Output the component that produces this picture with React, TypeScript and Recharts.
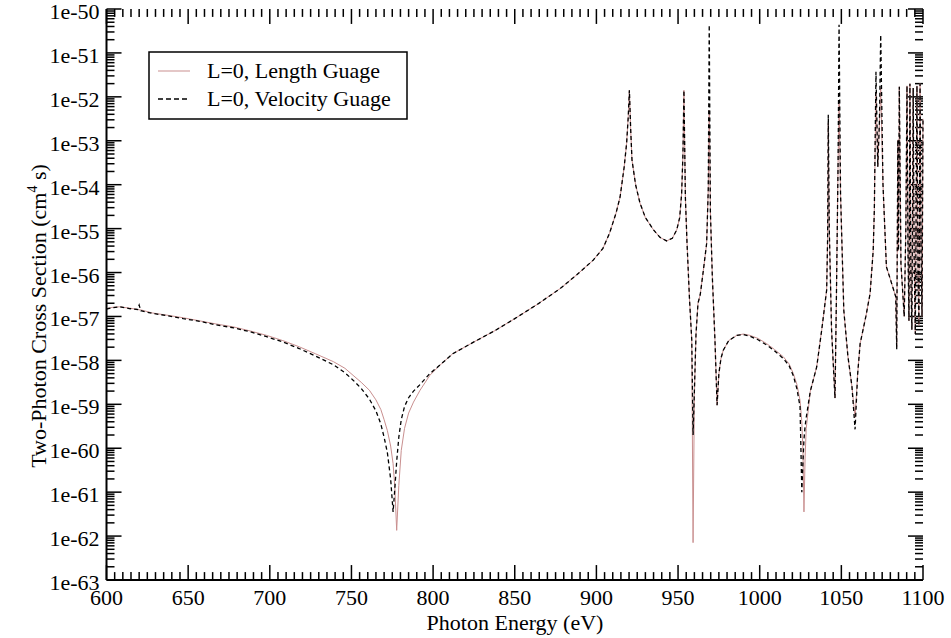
import React from 'react';
import { LineChart, Line, XAxis, YAxis, ReferenceLine } from 'recharts';

// photon energy (eV) and log10 of the cross section (cm^4 s)
const energy = [
  600, 604, 608, 614, 619, 620, 621, 628, 637, 647, 657, 667, 678, 688, 698, 708, 718, 728, 739, 746,
  751, 756, 761, 765, 768, 770, 772, 774, 775.5, 776.5, 777.7, 779, 780.5, 782.5, 785, 788, 792, 798, 805, 812,
  825, 838, 850, 864, 878, 888, 898, 904, 908, 912, 914.5, 917, 918.5, 919.5, 920.2, 921, 921.8, 924, 926.7, 930,
  935, 939, 943, 946.5, 949.2, 951, 952.2, 953, 953.6, 954.5, 955.5, 957, 958.4, 959.2, 960, 961, 962.2, 963.6, 965.5, 967.5,
  968.5, 969.1, 969.8, 971, 972.6, 973.9, 975, 976.3, 977.7, 981, 986, 990, 994, 999, 1004.3, 1009, 1014.5, 1018, 1020.6, 1022.8,
  1024.7, 1025.8, 1026.5, 1027.1, 1027.8, 1028.5, 1031, 1034.9, 1038, 1041, 1041.6, 1042, 1042.6, 1044, 1046.1, 1047, 1048, 1048.6, 1049.5, 1051.5,
  1054, 1056.5, 1058.4, 1060, 1061.5, 1065, 1067.6, 1069.5, 1070.2, 1071.2, 1072.3, 1073.3, 1074.1, 1075.5, 1077.6, 1080.4, 1083.3, 1083.9, 1084.6, 1085,
  1085.5, 1086.5, 1087.5, 1088.5, 1089.5, 1090.2, 1090.8, 1091.4, 1092, 1092.6, 1093.2, 1094, 1094.6, 1095.3, 1096.3, 1096.9, 1097.5, 1098.2, 1098.8, 1099.4,
  1100,
];

const lengthGauge = [
  -56.82, -56.79, -56.78, -56.81, -56.84, -56.85, -56.85, -56.92, -56.97, -57.03, -57.1, -57.17, -57.24, -57.33, -57.43, -57.55, -57.69, -57.85, -58.03, -58.18,
  -58.34, -58.5, -58.68, -58.9, -59.12, -59.35, -59.6, -59.95, -60.35, -60.85, -61.87, -60.85, -60.05, -59.55, -59.2, -58.95, -58.68, -58.34, -58.08, -57.85,
  -57.58, -57.32, -57.05, -56.72, -56.36, -56.05, -55.72, -55.45, -55.11, -54.65, -54.28, -53.6, -53.06, -52.45, -51.85, -52.75, -53.44, -54.0, -54.42, -54.75,
  -55.03, -55.2, -55.28, -55.22, -55.03, -54.75, -54.2, -53.3, -51.85, -54.3, -55.33, -56.6, -57.54, -62.15, -58.8, -57.4, -56.7, -56.5, -55.95, -55.34,
  -54.1, -52.3, -54.6, -56.1, -57.54, -59.02, -58.3, -57.95, -57.77, -57.55, -57.43, -57.4, -57.43, -57.5, -57.62, -57.75, -57.92, -58.08, -58.3, -58.55,
  -58.91, -59.4, -60.1, -61.45, -60.2, -59.55, -58.7, -58.15, -57.3, -56.4, -55.2, -52.6, -55.0, -57.3, -58.86, -56.5, -53.5, -52.1, -54.2, -56.86,
  -57.9, -58.6, -59.3, -58.3, -57.62, -57.0, -56.48, -55.5, -54.58, -51.9, -53.59, -52.6, -51.8, -54.0, -55.87, -56.2, -56.55, -57.69, -52.98, -55.5,
  -51.77, -55.8, -56.4, -57.0, -55.0, -51.75, -55.5, -57.1, -51.7, -56.2, -57.3, -51.8, -55.8, -57.4, -51.75, -56.0, -57.2, -51.7, -55.5, -57.0,
  -52.5,
];

const velocityGauge = [
  -56.83, -56.8, -56.78, -56.82, -56.84, -56.74, -56.87, -56.93, -56.98, -57.05, -57.11, -57.19, -57.26, -57.35, -57.46, -57.58, -57.73, -57.9, -58.1, -58.28,
  -58.45, -58.64, -58.88, -59.15, -59.45, -59.75, -60.1, -60.7, -61.45, -60.95, -60.3, -59.75, -59.35, -59.05, -58.85, -58.7, -58.55, -58.3, -58.08, -57.85,
  -57.58, -57.32, -57.05, -56.72, -56.36, -56.05, -55.72, -55.45, -55.11, -54.65, -54.28, -53.6, -53.06, -52.45, -51.85, -52.75, -53.44, -54.0, -54.42, -54.75,
  -55.03, -55.2, -55.28, -55.22, -55.03, -54.75, -54.2, -53.3, -51.85, -54.3, -55.33, -56.6, -57.54, -59.7, -58.7, -57.4, -56.7, -56.5, -55.95, -55.34,
  -54.1, -50.36, -54.6, -56.1, -57.54, -59.02, -58.3, -57.95, -57.77, -57.55, -57.43, -57.41, -57.45, -57.53, -57.65, -57.78, -57.96, -58.12, -58.35, -58.65,
  -59.05, -61.0, -60.3, -59.8, -59.5, -59.3, -58.7, -58.15, -57.3, -56.4, -55.2, -52.41, -55.0, -57.3, -58.86, -56.5, -53.5, -50.36, -54.2, -56.86,
  -57.9, -58.6, -59.57, -58.3, -57.62, -57.0, -56.48, -55.5, -54.58, -51.43, -53.59, -52.6, -50.59, -54.0, -55.87, -56.2, -56.55, -57.75, -52.98, -55.5,
  -51.77, -55.8, -56.4, -57.0, -55.0, -51.75, -55.5, -57.1, -51.7, -56.2, -57.3, -51.8, -55.8, -57.4, -51.75, -56.0, -57.2, -51.7, -55.5, -57.0,
  -52.5,
];

const xMajorTicks = [600, 650, 700, 750, 800, 850, 900, 950, 1000, 1050, 1100];
const yDecades = [-63, -62, -61, -60, -59, -58, -57, -56, -55, -54, -53, -52, -51, -50];
const yTickLabels = ['1e-63', '1e-62', '1e-61', '1e-60', '1e-59', '1e-58', '1e-57', '1e-56', '1e-55', '1e-54', '1e-53', '1e-52', '1e-51', '1e-50'];
const seriesNames = ['L=0, Length Guage', 'L=0, Velocity Guage'];

const data = energy.map((e, i) => ({ e, len: lengthGauge[i], vel: velocityGauge[i] }));

const X_MIN = 600;
const X_MAX = 1100;
const Y_MIN = -63;
const Y_MAX = -50;

// minor ticks: every 5 eV on x, 2..9 within each decade on y
const xTicks: number[] = [];
for (let v = X_MIN; v <= X_MAX; v += 5) xTicks.push(v);
const yTicks: number[] = [];
yDecades.forEach((d) => {
  yTicks.push(d);
  if (d < Y_MAX) for (let m = 2; m <= 9; m++) yTicks.push(d + Math.log10(m));
});

const isMajorX = (v: number) => xMajorTicks.includes(v);
const isMajorY = (v: number) => Math.abs(v - Math.round(v)) < 1e-9;

// inward tick lengths in data units (major ~15px, minor ~8px)
const xTickLen = (v: number) => (isMajorX(v) ? 0.34 : 0.18); // in decades
const yTickLen = (v: number) => (isMajorY(v) ? 9.2 : 4.9); // in eV

const FONT = "'Liberation Serif', 'DejaVu Serif', 'Times New Roman', serif";
const textStyle = { fontFamily: FONT, fontSize: 22 };
const LEN_COLOR = '#c98f8f';

const bottomLabel = (p: any) => {
  if (!isMajorX(p.payload.value)) return <g key={`b${p.index}`} />;
  return (
    <text key={`b${p.index}`} x={p.x} y={Number(p.y) + 25} textAnchor="middle" style={textStyle} fill="#000">
      {p.payload.value}
    </text>
  );
};

const leftLabel = (p: any) => {
  if (!isMajorY(p.payload.value)) return <g key={`l${p.index}`} />;
  const idx = yDecades.indexOf(Math.round(p.payload.value));
  return (
    <text key={`l${p.index}`} x={Number(p.x) - 7} y={Number(p.y) + 10} textAnchor="end" style={textStyle} fill="#000">
      {yTickLabels[idx]}
    </text>
  );
};

const LegendBox = () => (
  <svg width={260} height={69} style={{ position: 'absolute', left: 148, top: 51 }}>
    <rect x={1} y={1} width={258} height={67} fill="#fff" stroke="#000" strokeWidth={1.5} />
    <line x1={10} x2={42} y1={20} y2={20} stroke={LEN_COLOR} strokeWidth={1} />
    <text x={59} y={27} style={textStyle} fill="#000">{seriesNames[0]}</text>
    <line x1={10} x2={42} y1={48} y2={48} stroke="#000" strokeWidth={1.3} strokeDasharray="5 3" />
    <text x={59} y={55} style={textStyle} fill="#000">{seriesNames[1]}</text>
  </svg>
);

const axisLine = { stroke: '#000', strokeWidth: 2 };
const tickStroke = { stroke: '#000', strokeWidth: 1.5 };

export default function App() {
  return (
    <div style={{ position: 'absolute', left: 0, top: 0, width: 951, height: 638, background: '#fff' }}>
      <LineChart width={951} height={638} data={data} margin={{ top: 9, right: 28, bottom: 28, left: 10.5 }}>
        <XAxis
          xAxisId="bottom"
          type="number"
          dataKey="e"
          domain={[X_MIN, X_MAX]}
          ticks={xTicks}
          interval={0}
          tickSize={0}
          tickMargin={0}
          tickLine={false}
          tick={bottomLabel}
          axisLine={axisLine}
          height={30}
        />
        <XAxis
          xAxisId="top"
          orientation="top"
          type="number"
          domain={[X_MIN, X_MAX]}
          ticks={xTicks}
          tick={false}
          tickLine={false}
          axisLine={axisLine}
          height={0}
        />
        <YAxis
          yAxisId="left"
          type="number"
          domain={[Y_MIN, Y_MAX]}
          ticks={yTicks}
          interval={0}
          tickSize={0}
          tickMargin={0}
          tickLine={false}
          tick={leftLabel}
          axisLine={axisLine}
          width={96}
        />
        <YAxis
          yAxisId="right"
          orientation="right"
          type="number"
          domain={[Y_MIN, Y_MAX]}
          ticks={yTicks}
          tick={false}
          tickLine={false}
          axisLine={axisLine}
          width={0}
        />
        {xTicks.map((v) => (
          <ReferenceLine
            key={`xb${v}`}
            xAxisId="bottom"
            yAxisId="left"
            segment={[{ x: v, y: Y_MIN }, { x: v, y: Y_MIN + xTickLen(v) }]}
            {...tickStroke}
          />
        ))}
        {xTicks.map((v) => (
          <ReferenceLine
            key={`xt${v}`}
            xAxisId="bottom"
            yAxisId="left"
            segment={[{ x: v, y: Y_MAX }, { x: v, y: Y_MAX - xTickLen(v) }]}
            {...tickStroke}
          />
        ))}
        {yTicks.map((v) => (
          <ReferenceLine
            key={`yl${v}`}
            xAxisId="bottom"
            yAxisId="left"
            segment={[{ x: X_MIN, y: v }, { x: X_MIN + yTickLen(v), y: v }]}
            {...tickStroke}
          />
        ))}
        {yTicks.map((v) => (
          <ReferenceLine
            key={`yr${v}`}
            xAxisId="bottom"
            yAxisId="left"
            segment={[{ x: X_MAX, y: v }, { x: X_MAX - yTickLen(v), y: v }]}
            {...tickStroke}
          />
        ))}
        <Line
          xAxisId="bottom"
          yAxisId="left"
          type="linear"
          dataKey="len"
          name={seriesNames[0]}
          stroke={LEN_COLOR}
          strokeWidth={1}
          dot={false}
          isAnimationActive={false}
        />
        <Line
          xAxisId="bottom"
          yAxisId="left"
          type="linear"
          dataKey="vel"
          name={seriesNames[1]}
          stroke="#000"
          strokeWidth={1.3}
          strokeDasharray="4 3"
          dot={false}
          isAnimationActive={false}
        />
      </LineChart>
      <LegendBox />
      <svg width={951} height={638} style={{ position: 'absolute', left: 0, top: 0, pointerEvents: 'none' }}>
        <text x={515} y={630} textAnchor="middle" style={textStyle} fill="#000">
          Photon Energy (eV)
        </text>
        <text x={46} y={316} textAnchor="middle" style={textStyle} fill="#000" transform="rotate(-90, 46, 316)">
          Two-Photon Cross Section (cm
          <tspan dy={-9} style={{ fontSize: 14 }}>4</tspan>
          <tspan dy={9}> s)</tspan>
        </text>
      </svg>
    </div>
  );
}
